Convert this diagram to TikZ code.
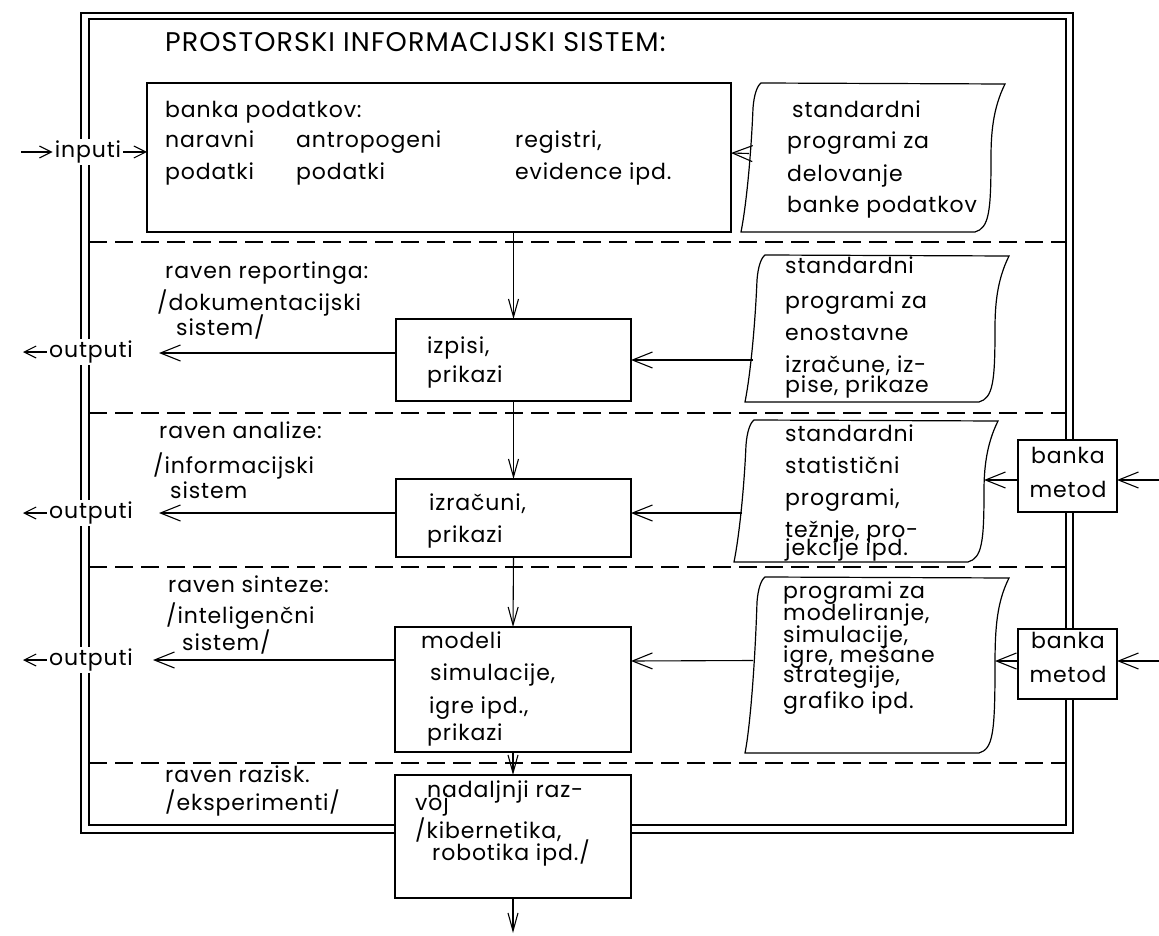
\documentclass[tikz,border=0pt]{standalone}
\usepackage{fontspec}
\setmainfont{Poppins}[LetterSpace=4]
\usetikzlibrary{arrows.meta}

\tikzset{
  dblframe/.style={line width=1.1pt},
  levelline/.style={line width=1.1pt, dash pattern=on 18pt off 8pt},
  prbox/.style={draw, fill=white, line width=1.2pt, inner sep=0pt, outer sep=0pt, anchor=north west},
  sheet/.style={draw, fill=white, line width=1.2pt},
  txt/.style={anchor=base west, align=left, inner sep=0pt, font=\fontsize{22}{32}\selectfont},
  headtxt/.style={anchor=base west, inner sep=0pt, font=\fontsize{27}{30}\selectfont},
  tagtxt/.style={fill=white, inner sep=2pt, font=\fontsize{22}{24}\selectfont},
  flowarr/.style={line width=1.1pt, -{Straight Barb[length=20pt,width=16pt,line width=1.1pt]}},
  downarr/.style={line width=1.1pt, -{Straight Barb[length=18pt,width=10pt,line width=1.1pt]}},
  tagarr/.style={line width=1.1pt, -{Straight Barb[length=12pt,width=12pt,line width=1.1pt]}}
}

% program sheet: name, top left x, top y, height
\newcommand{\progsheet}[4]{%
  \begin{scope}[shift={(#2,#3)}]
    \draw[sheet] (0,0) -- (244,1)
      .. controls (232,25) and (230,50) .. (230,{#4*0.5})
      .. controls (230,{#4-20}) and (228,{#4-4}) .. (214,#4)
      -- (-20,#4)
      .. controls (-15,{#4-25}) and (-10,{#4*0.5}) .. (-8,25)
      .. controls (-7,12) and (-4,3) .. (0,0) -- cycle;
    \coordinate (#1w) at (-12,{#4*0.5});
    \coordinate (#1e) at (230,{#4*0.5});
  \end{scope}}

\begin{document}
\begin{tikzpicture}[x=1pt, y=-1pt]
\useasboundingbox (0,0) rectangle (1159,936);

%double frame
\draw[dblframe] (81,13) rectangle (1073,833);
\draw[dblframe] (89,19) rectangle (1066,825);

%levels
\foreach \y in {242,413,567,763}
  \draw[levelline] (89,\y) -- (1066,\y);

%boxes
\node[prbox, minimum width=584pt, minimum height=149pt] (bank) at (147,83) {};
\node[prbox, minimum width=235pt, minimum height=82pt] (izpisi) at (396,319) {};
\node[prbox, minimum width=235pt, minimum height=78pt] (izracuni) at (396,479) {};
\node[prbox, minimum width=236pt, minimum height=125pt] (modeli) at (395,627) {};
\node[prbox, minimum width=236pt, minimum height=123pt] (razvoj) at (395,775) {};
\node[prbox, minimum width=99pt, minimum height=72pt] (metodA) at (1018,440) {};
\node[prbox, minimum width=99pt, minimum height=70pt] (metodB) at (1018,629) {};

%program sheets
\progsheet{sheetA}{761}{83}{149}
\progsheet{sheetB}{765}{255}{147}
\progsheet{sheetC}{754}{420}{142}
\progsheet{sheetD}{765}{577}{176}

%texts (multi-line nodes sit on their last line)
\node[headtxt] (tHead) at (165,52) {PROSTORSKI INFORMACIJSKI SISTEM:};
\node[txt] (tBank) at (165,118) {banka podatkov:};
\node[txt] (tNar) at (165,180) {naravni\\podatki};
\node[txt] (tAnt) at (296,180) {antropogeni\\podatki};
\node[txt] (tReg) at (515,180) {registri,\\evidence ipd.};
\node[txt] (tSheetA) at (787,213) {\hspace*{5pt}standardni\\programi za\\delovanje\\banke podatkov};
\node[txt] (tSheetB) at (785,392) {standardni\\[3pt]programi za\\enostavne\\izračune, iz-\\[-12pt]pise, prikaze};
\node[txt] (tSheetC) at (785,555) {standardni\\statistični\\programi,\\težnje, pro-\\[-14pt]jekcije ipd.};
\node[txt] (tSheetD) at (783,708) {programi za\\[-10pt]modeliranje,\\[-10pt]simulacije,\\[-12pt]igre, mešane\\[-12pt]strategije,\\[-6pt]grafiko ipd.};
\node[txt] (tIzpisi) at (427,382) {izpisi,\\[-3pt]prikazi};
\node[txt] (tIzracuni) at (427,542) {\hspace*{2pt}izračuni,\\prikazi};
\node[txt] (tModeli) at (421,740) {modeli\\\hspace*{9pt}simulacije,\\[1pt]\hspace*{8pt}igre ipd.,\\[-5pt]\hspace*{6pt}prikazi};
\node[txt] (tRazvoj) at (415,860) {\hspace*{12pt}nadaljnji raz-\\[-19pt]voj\\[-4pt]/kibernetika,\\[-10pt]\hspace*{17pt}robotika ipd./};
\node[txt, anchor=base, align=center] (tMetodA) at (1068,497) {banka\\[2pt]metod};
\node[txt, anchor=base, align=center] (tMetodB) at (1068,682) {banka\\[2pt]metod};

\node[txt] (tReport) at (157,335) {\hspace*{8pt}raven reportinga:\\/dokumentacijski\\[-7pt]\hspace*{19pt}sistem/};
\node[txt] (tAnaliza) at (153,498) {\hspace*{6pt}raven analize:\\[3pt]/informacijski\\[-7pt]\hspace*{17pt}sistem};
\node[txt] (tSinteza) at (166,650) {\hspace*{2pt}raven sinteze:\\[-1pt]/inteligenčni\\[-5pt]\hspace*{16pt}sistem/};
\node[txt] (tRazisk) at (165,810) {raven razisk.\\[-4pt]/eksperimenti/};

%inputs and outputs
\node[tagtxt] (inputi) at (88,152) {inputi};
\node[tagtxt] (outA) at (91,352) {outputi};
\node[tagtxt] (outB) at (91,513) {outputi};
\node[tagtxt] (outC) at (91,660) {outputi};
\coordinate (inTail) at (21,152);
\coordinate (outAtip) at (23,352);
\coordinate (outBtip) at (23,513);
\coordinate (outCtip) at (23,660);
\coordinate (levA) at (159,353);
\coordinate (levB) at (159,513);
\coordinate (levC) at (153,660);
\coordinate (metAin) at (1159,480);
\coordinate (metBin) at (1159,661);
\coordinate (endPt) at (513,933);

\draw[tagarr] (inTail) -- (inputi.west);
\draw[tagarr] (inputi.east) -- (bank.west |- inputi.east);
\draw[tagarr] (outA.west) -- (outAtip);
\draw[tagarr] (outB.west) -- (outBtip);
\draw[tagarr] (outC.west) -- (outCtip);

%flow down
\draw[downarr] (bank.south -| izpisi.north) -- (izpisi.north);
\draw[downarr] (izpisi.south) -- (izracuni.north);
\draw[downarr] (izracuni.south) -- (modeli.north);
\draw[downarr] (modeli.south) -- (razvoj.north);
\draw[downarr] (razvoj.south) -- (endPt);

%programs to boxes
\draw[flowarr] (sheetAw |- bank.east) ++(0,-4) -- (bank.east |- 0,153);
\draw[flowarr] (sheetBw |- izpisi.east) -- (izpisi.east);
\draw[flowarr] (sheetCw |- izracuni.east) ++(0,-5) -- (izracuni.east |- 0,513);
\draw[flowarr] (sheetDw |- modeli.east) ++(0,-29) -- (modeli.east |- 0,661);

%outputs of levels
\draw[flowarr] (izpisi.west) ++(0,-7) -- (levA);
\draw[flowarr] (izracuni.west |- levB) -- (levB);
\draw[flowarr] (modeli.west |- levC) -- (levC);

%banka metod
\draw[flowarr] (metAin) -- (metodA.east |- metAin);
\draw[flowarr] (metodA.west |- metAin) -- (sheetCe |- metAin);
\draw[flowarr] (metBin) -- (metodB.east |- metBin);
\draw[flowarr] (metodB.west |- metBin) -- (sheetDe |- metBin);
\end{tikzpicture}
\end{document}
